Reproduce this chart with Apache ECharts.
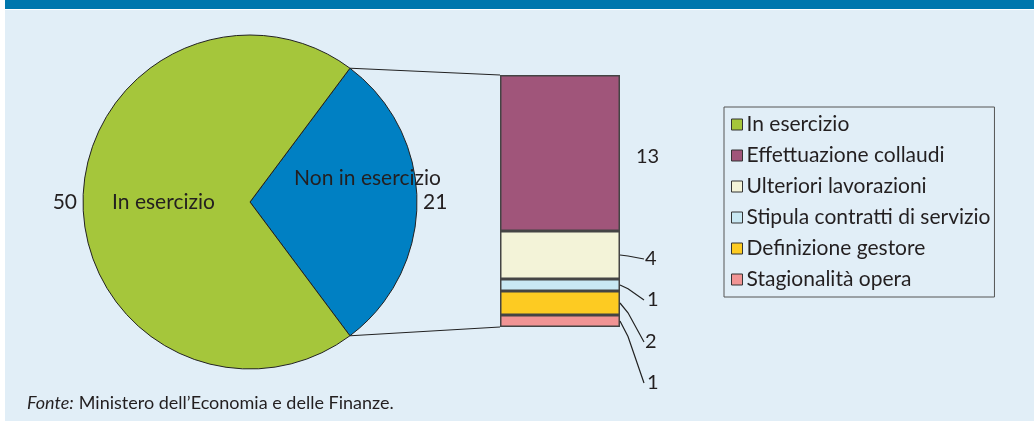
<!DOCTYPE html>
<html><head><meta charset="utf-8">
<script src="https://cdn.jsdelivr.net/npm/echarts@6/dist/echarts.min.js"></script>
<style>html,body{margin:0;padding:0;background:#fff}#c{width:1034px;height:421px}</style>
</head><body><div id="c"></div>
<script>
// Data
const pieNames = ['In esercizio', 'Non in esercizio'];
const pieValues = [50, 21];
const barNames = ['Effettuazione collaudi', 'Ulteriori lavorazioni', 'Stipula contratti di servizio', 'Definizione gestore', 'Stagionalità opera'];
const barValues = [13, 4, 1, 2, 1];
const legendNames = ['In esercizio', 'Effettuazione collaudi', 'Ulteriori lavorazioni', 'Stipula contratti di servizio', 'Definizione gestore', 'Stagionalità opera'];
const sourceText = 'Ministero dell\u2019Economia e delle Finanze.';

const pieColors = ['#a5c63b', '#0080c3'];
const barColors = ['#a0557a', '#f3f3d8', '#c9e8f3', '#fdcb22', '#f19494'];
const FONT = 'Lato';
const TXT = '#231f20';

const chart = echarts.init(document.getElementById('c'));
const cx = 250, cy = 202, R = 167;
const total = pieValues[0] + pieValues[1];
const startAngle = 180 * pieValues[1] / total;

// label layout offsets (layout only)
const labelDy = [4, 4, 15, 39, 62];
const labelDist = [16, 25, 27, 25, 27];

const barSeries = [];
for (let i = barNames.length - 1; i >= 0; i--) {
  barSeries.push({
    type: 'bar', name: barNames[i], stack: 's', data: [barValues[i]],
    xAxisIndex: 0, yAxisIndex: 0, barWidth: '100%',
    itemStyle: {color: barColors[i], borderColor: '#444', borderWidth: 1.5},
    label: {show: true, position: 'right', distance: labelDist[i], offset: [0, labelDy[i]],
            fontFamily: FONT, fontSize: 20, color: TXT},
    labelLine: {show: false},
    emphasis: {disabled: true}, animation: false
  });
}

const option = {
  animation: false,
  backgroundColor: '#ffffff',
  graphic: [
    {type: 'rect', z: -10, shape: {x: 5, y: 0, width: 1029, height: 9}, style: {fill: '#0077ad'}},
    {type: 'rect', z: -10, shape: {x: 5, y: 10, width: 1029, height: 411}, style: {fill: '#e1eef7'}}
  ],
  title: {
    left: 22, top: 389,
    text: '{i|Fonte:} {n|' + sourceText + '}',
    textStyle: {fontWeight: 'normal', rich: {
      i: {fontFamily: FONT, fontStyle: 'italic', fontWeight: 'normal', fontSize: 18, color: TXT},
      n: {fontFamily: FONT, fontWeight: 'normal', fontSize: 18, color: TXT}
    }}
  },
  legend: {
    data: legendNames, orient: 'vertical', left: 724, top: 107,
    padding: [6, 4, 6, 7],
    borderColor: '#555', borderWidth: 1,
    itemWidth: 11, itemHeight: 11, itemGap: 8, icon: 'rect',
    itemStyle: {borderColor: '#333', borderWidth: 1},
    textStyle: {fontFamily: FONT, fontSize: 21, color: TXT, lineHeight: 23, padding: [0, 0, 0, -1]},
    selectedMode: false
  },
  grid: {left: 500, width: 120, top: 75, height: 252},
  xAxis: {type: 'category', data: [''], show: false},
  yAxis: {type: 'value', min: 0, max: total - pieValues[0], show: false},
  series: [
    {
      type: 'pie', center: [cx, cy], radius: [0, R], startAngle: startAngle, clockwise: true,
      data: [{name: pieNames[1], value: pieValues[1], itemStyle: {color: pieColors[1]},
              label: {offset: [31, -24]}},
             {name: pieNames[0], value: pieValues[0], itemStyle: {color: pieColors[0]}}],
      itemStyle: {borderColor: '#222', borderWidth: 1},
      label: {show: true, position: 'inner', formatter: '{b}', fontFamily: FONT, fontSize: 21, color: TXT},
      labelLine: {show: false}, emphasis: {disabled: true}, silent: true
    },
    {
      type: 'pie', center: [cx, cy], radius: [0, R], startAngle: startAngle, clockwise: true,
      data: [{name: 'v1', value: pieValues[1]}, {name: 'v0', value: pieValues[0]}],
      itemStyle: {color: 'rgba(0,0,0,0)'},
      label: {show: true, position: 'outside', formatter: '{c}', fontFamily: FONT, fontSize: 21, color: TXT},
      labelLine: {show: false, length: 1, length2: 0},
      emphasis: {disabled: true}, silent: true, z: 1
    }
  ].concat(barSeries)
};
chart.setOption(option);

// connector and leader lines derived from the library's scales
const topY = chart.convertToPixel({yAxisIndex: 0}, total - pieValues[0]);
const botY = chart.convertToPixel({yAxisIndex: 0}, 0);
const barL = chart.convertToPixel({xAxisIndex: 0}, 0) - 60;
const barR = barL + 120;
const a = Math.PI * pieValues[1] / total;
const p1 = [cx + R * Math.cos(a), cy - R * Math.sin(a)];
const p2 = [cx + R * Math.cos(a), cy + R * Math.sin(a)];
const g = option.graphic.slice();
g.push({type: 'polyline', z: 10, shape: {points: [p1, [barL, topY]]}, style: {stroke: '#222', lineWidth: 1}});
g.push({type: 'polyline', z: 10, shape: {points: [p2, [barL, botY]]}, style: {stroke: '#222', lineWidth: 1}});
// leader lines
let cum = 0;
for (let i = barNames.length - 1; i >= 1; i--) {
  const lo = chart.convertToPixel({yAxisIndex: 0}, cum);
  const hi = chart.convertToPixel({yAxisIndex: 0}, cum + barValues[i]);
  const mid = (lo + hi) / 2;
  const ly = mid + labelDy[i];
  g.push({type: 'polyline', z: 10, shape: {points: [[barR, mid], [barR + 8, mid + (ly - mid) * 0.25], [barR + 24, ly]]},
          style: {stroke: '#222', lineWidth: 1.2, fill: null}});
  cum += barValues[i];
}
chart.setOption({graphic: g});
</script></body></html>
